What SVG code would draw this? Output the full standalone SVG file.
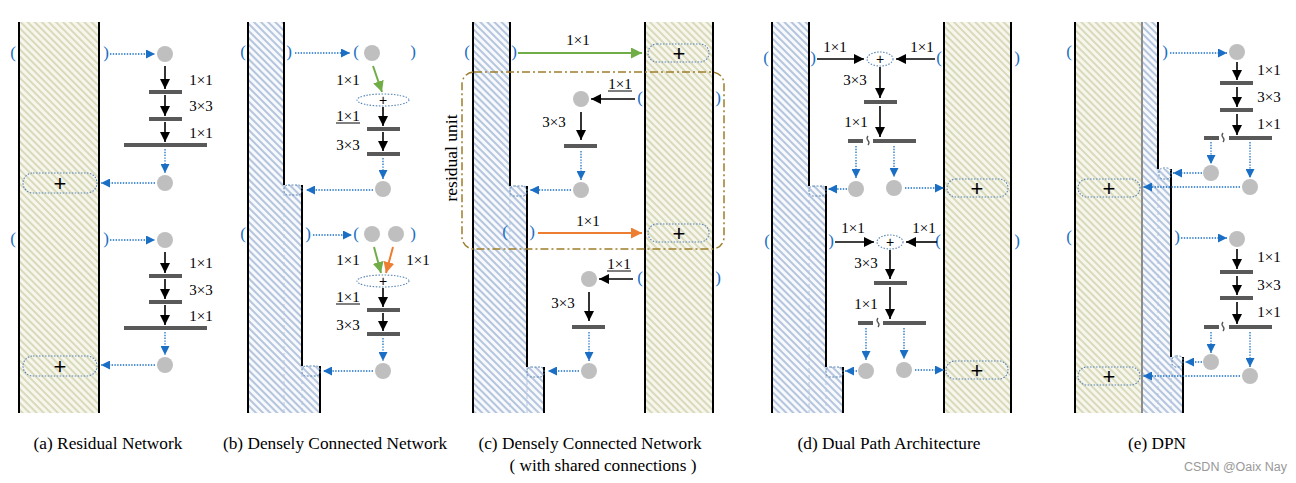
<svg xmlns="http://www.w3.org/2000/svg" width="1296" height="483" viewBox="0 0 1296 483">
<style>
.col{stroke:#000;stroke-width:2;fill:none}
.gcol{stroke:#8c8c8c;stroke-width:2;fill:none}
.faint{stroke:#b4c6e2;stroke-width:1;stroke-dasharray:4 3;fill:none}
.bar{fill:#595959}
.node{fill:#bfbfbf}
.ba{stroke:#000;stroke-width:1.6;fill:none;marker-end:url(#hk)}
.da{stroke:#1a6fc4;stroke-width:1.3;stroke-dasharray:1.4 1.4;fill:none;marker-end:url(#hd)}
.ga{stroke:#70ad47;stroke-width:2;fill:none;marker-end:url(#hg)}
.oa{stroke:#ed7d31;stroke-width:2;fill:none;marker-end:url(#ho)}
.plus{fill:none;stroke:#5a86b4;stroke-width:1.1;stroke-dasharray:1.5 1.5}
.step{fill:none;stroke:#5a86b4;stroke-width:1;stroke-dasharray:2 1.5}
.sq{stroke:#555;stroke-width:1.3;fill:none}
.ul{stroke:#000;stroke-width:1}
text{font-family:"Liberation Serif","Times New Roman",serif}
.lbl{font-size:15px;text-anchor:middle;fill:#000}
.br{font-size:17px;text-anchor:middle;fill:#1a6fc4}
.pl{font-family:"Liberation Sans",Arial,sans-serif;font-size:22px;text-anchor:middle;fill:#000}
.ps{font-family:"Liberation Sans",Arial,sans-serif;font-size:14px;text-anchor:middle;fill:#000}
.cap{font-size:17.3px;text-anchor:middle;fill:#000}
.wm{font-family:"Liberation Sans",Arial,sans-serif;font-size:12.5px;fill:#999;text-anchor:end}
</style>
<defs>
<pattern id="pbei" width="5" height="5" patternUnits="userSpaceOnUse" patternTransform="rotate(45)"><rect width="5" height="5" fill="#f6f6ec"/><line x1="0" y1="1" x2="5" y2="1" stroke="#d6d6b6" stroke-width="1.8"/></pattern>
<pattern id="pblu" width="5" height="5" patternUnits="userSpaceOnUse" patternTransform="rotate(45)"><rect width="5" height="5" fill="#f7f9fc"/><line x1="0" y1="1" x2="5" y2="1" stroke="#adbfda" stroke-width="1.8"/></pattern>
<marker id="hk" viewBox="0 0 10 10" refX="10" refY="5" markerWidth="10" markerHeight="10" markerUnits="userSpaceOnUse" orient="auto"><path d="M0,0L10,5L0,10z" fill="#000"/></marker>
<marker id="hd" viewBox="0 0 10 10" refX="10" refY="5" markerWidth="9" markerHeight="9" markerUnits="userSpaceOnUse" orient="auto"><path d="M0,0L10,5L0,10z" fill="#1a6fc4"/></marker>
<marker id="hg" viewBox="0 0 10 10" refX="10" refY="5" markerWidth="11" markerHeight="11" markerUnits="userSpaceOnUse" orient="auto"><path d="M0,0L10,5L0,10z" fill="#70ad47"/></marker>
<marker id="ho" viewBox="0 0 10 10" refX="10" refY="5" markerWidth="11" markerHeight="11" markerUnits="userSpaceOnUse" orient="auto"><path d="M0,0L10,5L0,10z" fill="#ed7d31"/></marker>
</defs>
<rect width="1296" height="483" fill="#fff"/>

<!-- Panel (a) -->
<g id="panel-a">
<rect x="19" y="22" width="80" height="391" fill="url(#pbei)"/>
<path class="col" d="M19,22V413M99,22V413"/>
</g>
<g id="a-unit1">
<text class="br" x="13" y="58">(</text><text class="br" x="106" y="58">)</text>
<circle class="node" cx="165" cy="54" r="8"/>
<rect class="bar" x="149" y="90" width="33" height="4"/>
<rect class="bar" x="149" y="117" width="33" height="4"/>
<rect class="bar" x="124" y="143" width="83" height="4"/>
<text class="lbl" x="201" y="85">1×1</text><text class="lbl" x="201" y="111">3×3</text><text class="lbl" x="201" y="138">1×1</text>
<circle class="node" cx="165" cy="183" r="8"/>
<rect class="plus" x="23" y="173" width="74" height="20" rx="10"/><text class="pl" x="60" y="191">+</text>
</g>
<g id="a-unit2">
<text class="br" x="13" y="244">(</text><text class="br" x="106" y="244">)</text>
<circle class="node" cx="165" cy="240" r="8"/>
<rect class="bar" x="149" y="274" width="33" height="4"/>
<rect class="bar" x="149" y="300" width="33" height="4"/>
<rect class="bar" x="124" y="326" width="83" height="4"/>
<text class="lbl" x="201" y="268">1×1</text><text class="lbl" x="201" y="295">3×3</text><text class="lbl" x="201" y="321">1×1</text>
<circle class="node" cx="165" cy="365" r="8"/>
<rect class="plus" x="23" y="356" width="74" height="20" rx="10"/><text class="pl" x="60" y="374">+</text>
</g>

<!-- Panel (b) -->
<g id="panel-b">
<path d="M248,22H284V185H302V366H320V413H248Z" fill="url(#pblu)"/>
<path class="faint" d="M284,185V413M302,366V413"/>
<path class="col" d="M248,22V413M284,22V185M302,185V366M320,366V413"/>
<rect class="step" x="284" y="185" width="18" height="10" rx="4"/>
<rect class="step" x="302" y="366" width="18" height="10" rx="4"/>
</g>
<g id="b-unit1">
<text class="br" x="243" y="57">(</text><text class="br" x="289" y="57">)</text>
<text class="br" x="356" y="57">(</text><circle class="node" cx="372" cy="53" r="8"/><text class="br" x="413" y="57">)</text>
<text class="lbl" x="348" y="85">1×1</text>
<ellipse class="plus" cx="383" cy="100" rx="26" ry="6"/><text class="ps" x="383" y="105">+</text>
<text class="lbl" x="348" y="121">1×1</text><line class="ul" x1="336" y1="123" x2="360" y2="123"/>
<rect class="bar" x="367" y="127" width="33" height="4"/>
<text class="lbl" x="348" y="150">3×3</text>
<rect class="bar" x="367" y="152" width="33" height="4"/>
<circle class="node" cx="383" cy="189" r="8"/>
</g>
<g id="b-unit2">
<text class="br" x="243" y="239">(</text><text class="br" x="308" y="239">)</text>
<text class="br" x="356" y="239">(</text><circle class="node" cx="372" cy="234" r="8"/><circle class="node" cx="396" cy="234" r="8"/><text class="br" x="413" y="239">)</text>
<text class="lbl" x="348" y="265">1×1</text><text class="lbl" x="418" y="265">1×1</text>
<ellipse class="plus" cx="383" cy="281" rx="26" ry="6"/><text class="ps" x="383" y="286">+</text>
<text class="lbl" x="348" y="302">1×1</text><line class="ul" x1="336" y1="304" x2="360" y2="304"/>
<rect class="bar" x="367" y="308" width="33" height="4"/>
<text class="lbl" x="348" y="330">3×3</text>
<rect class="bar" x="367" y="332" width="33" height="4"/>
<circle class="node" cx="383" cy="371" r="8"/>
</g>

<!-- Panel (c) -->
<g id="panel-c">
<path d="M473,22H510V186H527V367H544V413H473Z" fill="url(#pblu)"/>
<path class="faint" d="M510,186V413M527,367V413"/>
<path class="col" d="M473,22V413M510,22V186M527,186V367M544,367V413"/>
<rect class="step" x="510" y="186" width="17" height="10" rx="4"/>
<rect class="step" x="527" y="367" width="17" height="10" rx="4"/>
<rect x="645" y="22" width="68" height="391" fill="url(#pbei)"/>
<path class="col" d="M645,22V413M713,22V413"/>
</g>
<g id="c-shared1">
<text class="br" x="467" y="57">(</text><text class="br" x="514" y="57">)</text>
<text class="lbl" x="578" y="45">1×1</text>
<rect class="plus" x="648" y="44" width="61" height="18" rx="9"/><text class="pl" x="679" y="61">+</text>
</g>
<g id="c-residual-unit">
<rect x="462" y="72" width="262" height="177" rx="12" fill="none" stroke="#9e7d2a" stroke-width="1.5" stroke-dasharray="8 3 2 3"/>
<text x="0" y="0" transform="translate(457,158) rotate(-90)" font-size="17.5" text-anchor="middle" fill="#000">residual unit</text>
</g>
<g id="c-unit1">
<text class="br" x="640" y="103">(</text><text class="br" x="718" y="103">)</text>
<circle class="node" cx="581" cy="99" r="8"/>
<text class="lbl" x="620" y="89">1×1</text><line class="ul" x1="608" y1="91" x2="632" y2="91"/>
<text class="lbl" x="554" y="127">3×3</text>
<rect class="bar" x="564" y="144" width="33" height="4"/>
<circle class="node" cx="581" cy="190" r="8"/>
</g>
<g id="c-shared2">
<text class="br" x="505" y="237">(</text><text class="br" x="532" y="237">)</text>
<text class="lbl" x="588" y="226">1×1</text>
<rect class="plus" x="648" y="224" width="61" height="18" rx="9"/><text class="pl" x="679" y="241">+</text>
</g>
<g id="c-unit2">
<text class="br" x="640" y="283">(</text><text class="br" x="718" y="283">)</text>
<circle class="node" cx="589" cy="279" r="8"/>
<text class="lbl" x="619" y="269">1×1</text><line class="ul" x1="607" y1="271" x2="631" y2="271"/>
<text class="lbl" x="563" y="308">3×3</text>
<rect class="bar" x="572" y="325" width="33" height="4"/>
<circle class="node" cx="589" cy="371" r="8"/>
</g>

<!-- Panel (d) -->
<g id="panel-d">
<path d="M772,22H809V186H826V367H843V413H772Z" fill="url(#pblu)"/>
<path class="faint" d="M809,186V413M826,367V413"/>
<path class="col" d="M772,22V413M809,22V186M826,186V367M843,367V413"/>
<rect class="step" x="809" y="186" width="17" height="10" rx="4"/>
<rect class="step" x="826" y="367" width="17" height="10" rx="4"/>
<rect x="944" y="22" width="67" height="391" fill="url(#pbei)"/>
<path class="col" d="M944,22V413M1011,22V413"/>
</g>
<g id="d-unit1">
<text class="br" x="766" y="63">(</text><text class="br" x="813" y="63">)</text>
<text class="br" x="939" y="63">(</text><text class="br" x="1017" y="63">)</text>
<text class="lbl" x="835" y="52">1×1</text><text class="lbl" x="922" y="52">1×1</text>
<ellipse class="plus" cx="880" cy="59" rx="13" ry="7"/><text class="ps" x="880" y="64">+</text>
<text class="lbl" x="855" y="85">3×3</text>
<rect class="bar" x="864" y="100" width="33" height="4"/>
<text class="lbl" x="856" y="127">1×1</text>
<rect class="bar" x="848" y="139" width="15" height="4"/>
<path class="sq" d="M868,136q-2,2.5 0,4.5q2,2 0,4.5"/>
<rect class="bar" x="873" y="139" width="43" height="4"/>
<circle class="node" cx="856" cy="189" r="8"/><circle class="node" cx="894" cy="188" r="8"/>
<rect class="plus" x="947" y="179" width="61" height="18" rx="9"/><text class="pl" x="977" y="196">+</text>
</g>
<g id="d-unit2">
<text class="br" x="767" y="246">(</text><text class="br" x="831" y="246">)</text>
<text class="br" x="938" y="246">(</text><text class="br" x="1017" y="246">)</text>
<text class="lbl" x="853" y="233">1×1</text><text class="lbl" x="924" y="233">1×1</text>
<ellipse class="plus" cx="890" cy="242" rx="13" ry="7"/><text class="ps" x="890" y="247">+</text>
<text class="lbl" x="866" y="268">3×3</text>
<rect class="bar" x="874" y="281" width="33" height="4"/>
<text class="lbl" x="866" y="309">1×1</text>
<rect class="bar" x="858" y="321" width="15" height="4"/>
<path class="sq" d="M878,318q-2,2.5 0,4.5q2,2 0,4.5"/>
<rect class="bar" x="883" y="321" width="43" height="4"/>
<circle class="node" cx="866" cy="371" r="8"/><circle class="node" cx="904" cy="370" r="8"/>
<rect class="plus" x="946" y="361" width="62" height="18" rx="9"/><text class="pl" x="977" y="378">+</text>
</g>

<!-- Panel (e) -->
<g id="panel-e">
<rect x="1075" y="22" width="67" height="391" fill="url(#pbei)"/>
<path d="M1142,22H1158V169H1171V357H1183V413H1142Z" fill="url(#pblu)"/>
<path class="faint" d="M1158,169V413M1171,357V413"/>
<path class="col" d="M1075,22V413M1158,22V169M1171,169V357M1183,357V413"/>
<path class="gcol" d="M1142,22V413"/>
<rect class="step" x="1159" y="168" width="12" height="11" rx="4"/>
<rect class="step" x="1172" y="356" width="11" height="11" rx="4"/>
</g>
<g id="e-unit1">
<text class="br" x="1069" y="57">(</text><text class="br" x="1165" y="57">)</text>
<circle class="node" cx="1237" cy="52" r="8"/>
<rect class="bar" x="1220" y="81" width="33" height="4"/>
<rect class="bar" x="1220" y="108" width="33" height="4"/>
<rect class="bar" x="1204" y="136" width="15" height="4"/>
<path class="sq" d="M1223,133q-2,2.5 0,4.5q2,2 0,4.5"/>
<rect class="bar" x="1229" y="136" width="43" height="4"/>
<text class="lbl" x="1269" y="75">1×1</text><text class="lbl" x="1269" y="102">3×3</text><text class="lbl" x="1269" y="129">1×1</text>
<circle class="node" cx="1211" cy="173" r="8"/><circle class="node" cx="1250" cy="187" r="8"/>
<rect class="plus" x="1078" y="179" width="62" height="18" rx="9"/><text class="pl" x="1109" y="196">+</text>
</g>
<g id="e-unit2">
<text class="br" x="1069" y="242">(</text><text class="br" x="1177" y="242">)</text>
<circle class="node" cx="1237" cy="239" r="8"/>
<rect class="bar" x="1220" y="270" width="33" height="4"/>
<rect class="bar" x="1220" y="296" width="33" height="4"/>
<rect class="bar" x="1204" y="325" width="15" height="4"/>
<path class="sq" d="M1223,322q-2,2.5 0,4.5q2,2 0,4.5"/>
<rect class="bar" x="1229" y="325" width="43" height="4"/>
<text class="lbl" x="1269" y="262">1×1</text><text class="lbl" x="1269" y="290">3×3</text><text class="lbl" x="1269" y="317">1×1</text>
<circle class="node" cx="1211" cy="362" r="8"/><circle class="node" cx="1250" cy="376" r="8"/>
<rect class="plus" x="1078" y="367" width="62" height="18" rx="9"/><text class="pl" x="1109" y="384">+</text>
</g>

<!-- Connectors -->
<g id="connectors">
<line class="da" x1="110" y1="54" x2="155" y2="54"/>
<line class="ba" x1="165" y1="66" x2="165" y2="89"/>
<line class="ba" x1="165" y1="95" x2="165" y2="116"/>
<line class="ba" x1="165" y1="122" x2="165" y2="142"/>
<line class="da" x1="165" y1="149" x2="165" y2="173"/>
<line class="da" x1="155" y1="183" x2="101" y2="183"/>
<line class="da" x1="110" y1="240" x2="155" y2="240"/>
<line class="ba" x1="165" y1="252" x2="165" y2="273"/>
<line class="ba" x1="165" y1="279" x2="165" y2="299"/>
<line class="ba" x1="165" y1="305" x2="165" y2="325"/>
<line class="da" x1="165" y1="332" x2="165" y2="355"/>
<line class="da" x1="155" y1="365" x2="101" y2="365"/>
<line class="da" x1="295" y1="53" x2="350" y2="53"/>
<line class="ga" x1="373" y1="66" x2="382" y2="92"/>
<line class="ba" x1="383" y1="107" x2="383" y2="126"/>
<line class="ba" x1="383" y1="132" x2="383" y2="151"/>
<line class="da" x1="383" y1="158" x2="383" y2="179"/>
<line class="da" x1="373" y1="190" x2="306" y2="190"/>
<line class="da" x1="313" y1="235" x2="352" y2="235"/>
<line class="ga" x1="374" y1="247" x2="381" y2="273"/>
<line class="oa" x1="393" y1="247" x2="386" y2="273"/>
<line class="ba" x1="383" y1="288" x2="383" y2="307"/>
<line class="ba" x1="383" y1="313" x2="383" y2="331"/>
<line class="da" x1="383" y1="338" x2="383" y2="361"/>
<line class="da" x1="373" y1="371" x2="323" y2="371"/>
<line class="ga" x1="518" y1="53" x2="642" y2="53"/>
<line class="ba" x1="635" y1="99" x2="591" y2="99"/>
<line class="ba" x1="581" y1="112" x2="581" y2="140"/>
<line class="da" x1="581" y1="151" x2="581" y2="180"/>
<line class="da" x1="571" y1="190" x2="530" y2="190"/>
<line class="oa" x1="538" y1="233" x2="642" y2="233"/>
<line class="ba" x1="633" y1="279" x2="599" y2="279"/>
<line class="ba" x1="589" y1="292" x2="589" y2="321"/>
<line class="da" x1="589" y1="332" x2="589" y2="361"/>
<line class="da" x1="579" y1="371" x2="548" y2="371"/>
<line class="ba" x1="817" y1="59" x2="864" y2="59"/>
<line class="ba" x1="935" y1="59" x2="896" y2="59"/>
<line class="ba" x1="880" y1="67" x2="880" y2="98"/>
<line class="ba" x1="880" y1="106" x2="880" y2="137"/>
<line class="da" x1="856" y1="146" x2="856" y2="178"/>
<line class="da" x1="894" y1="146" x2="894" y2="177"/>
<line class="da" x1="847" y1="189" x2="828" y2="189"/>
<line class="da" x1="905" y1="188" x2="944" y2="188"/>
<line class="ba" x1="835" y1="242" x2="874" y2="242"/>
<line class="ba" x1="937" y1="242" x2="906" y2="242"/>
<line class="ba" x1="890" y1="250" x2="890" y2="279"/>
<line class="ba" x1="890" y1="287" x2="890" y2="319"/>
<line class="da" x1="866" y1="328" x2="866" y2="360"/>
<line class="da" x1="904" y1="328" x2="904" y2="359"/>
<line class="da" x1="857" y1="371" x2="845" y2="371"/>
<line class="da" x1="915" y1="370" x2="944" y2="370"/>
<line class="da" x1="1170" y1="53" x2="1227" y2="53"/>
<line class="ba" x1="1237" y1="62" x2="1237" y2="80"/>
<line class="ba" x1="1237" y1="87" x2="1237" y2="107"/>
<line class="ba" x1="1237" y1="114" x2="1237" y2="135"/>
<line class="da" x1="1211" y1="142" x2="1211" y2="164"/>
<line class="da" x1="1250" y1="142" x2="1250" y2="178"/>
<line class="da" x1="1202" y1="173" x2="1173" y2="173"/>
<line class="da" x1="1240" y1="187" x2="1143" y2="187"/>
<line class="da" x1="1181" y1="238" x2="1227" y2="238"/>
<line class="ba" x1="1237" y1="249" x2="1237" y2="269"/>
<line class="ba" x1="1237" y1="276" x2="1237" y2="295"/>
<line class="ba" x1="1237" y1="302" x2="1237" y2="324"/>
<line class="da" x1="1211" y1="332" x2="1211" y2="353"/>
<line class="da" x1="1250" y1="332" x2="1250" y2="367"/>
<line class="da" x1="1202" y1="362" x2="1185" y2="362"/>
<line class="da" x1="1240" y1="376" x2="1143" y2="376"/>
</g>

<g id="captions">
<text class="cap" x="108" y="449">(a) Residual Network</text>
<text class="cap" x="335" y="449">(b) Densely Connected Network</text>
<text class="cap" x="590" y="449">(c) Densely Connected Network</text>
<text class="cap" x="603" y="471">( with shared connections )</text>
<text class="cap" x="889" y="449">(d) Dual Path Architecture</text>
<text class="cap" x="1157" y="449">(e) DPN</text>
<text class="wm" x="1287" y="471">CSDN @Oaix Nay</text>
</g>
</svg>
